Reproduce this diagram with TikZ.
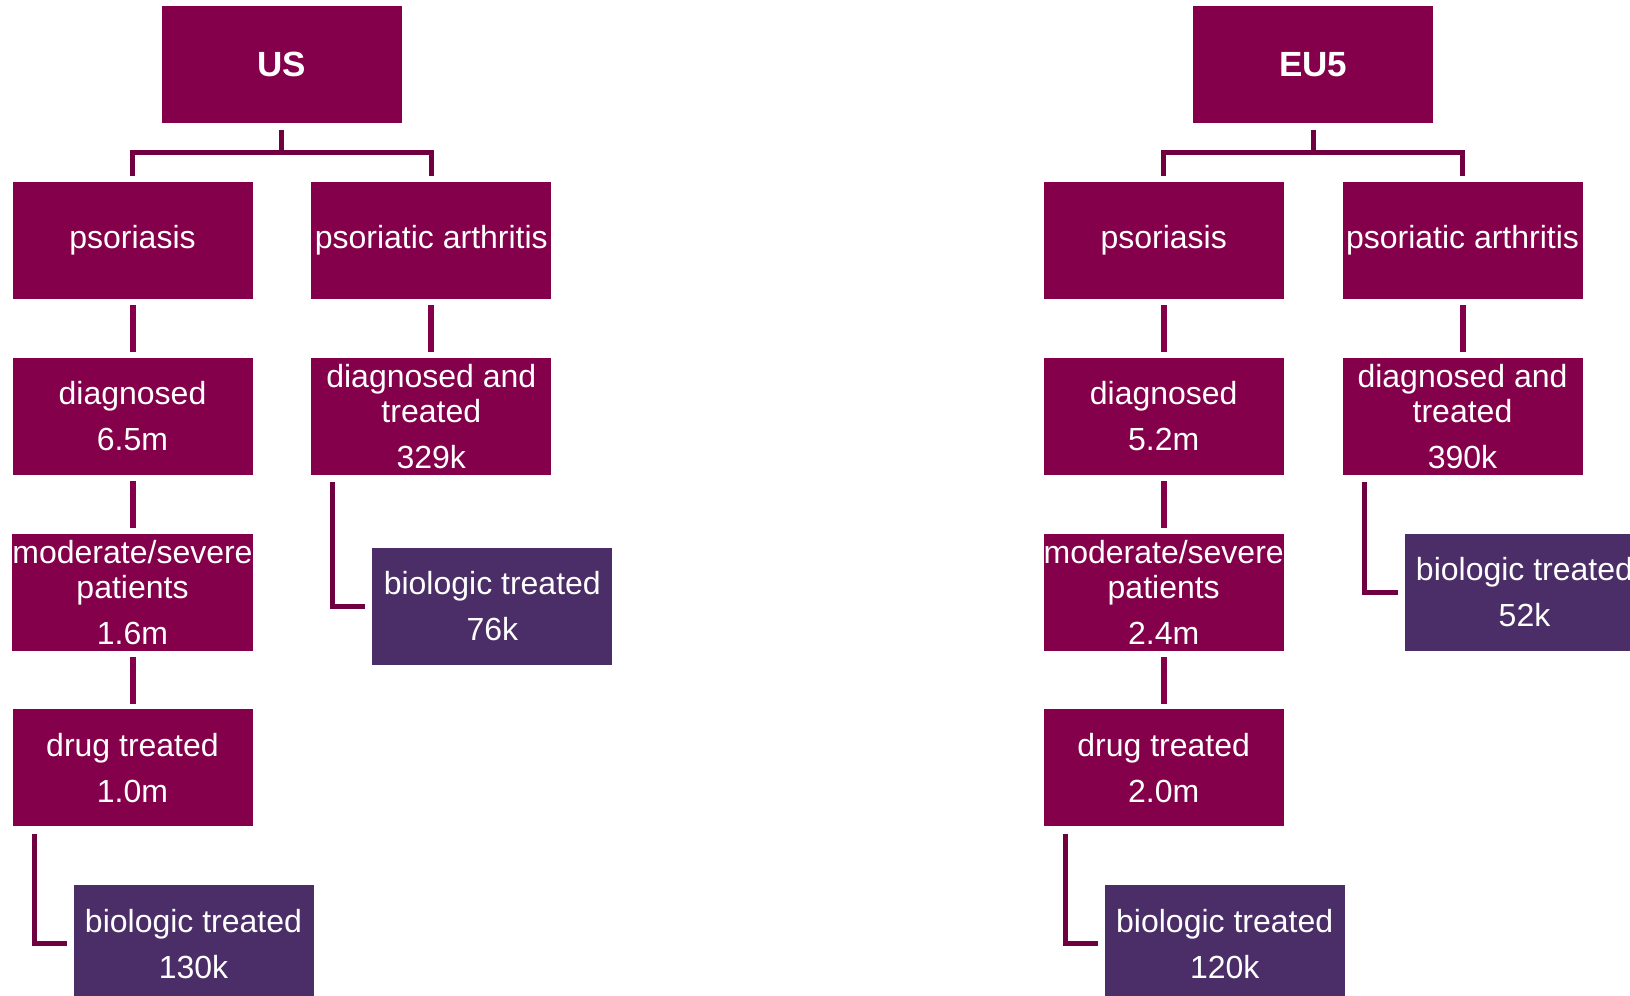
\documentclass[tikz,border=0pt]{standalone}
\usepackage{fontspec}
\setmainfont{Liberation Sans}
\usetikzlibrary{positioning, calc}
\definecolor{plum}{HTML}{85004B}
\definecolor{grape}{HTML}{4B2E67}

\begin{document}
\begin{tikzpicture}[node distance=29pt,
        box/.style={rectangle, fill=plum, text=white, minimum width=120pt, minimum height=58.5pt,
                inner sep=0pt, align=center, font=\fontsize{16}{17.5}\selectfont},
        biobox/.style={box, fill=grape},
        head/.style={box, font=\fontsize{17.5}{20}\selectfont\bfseries},
        link/.style={draw=plum, line width=3pt},
        tree/.style={draw=plum!85!black, line width=2.5pt}]
        \useasboundingbox (0,0) rectangle (815pt,-498pt);
        \clip (0,0) rectangle (815pt,-498pt);
        % US
        \node[box] (us_pso) at (66.25pt,-120.25pt) {psoriasis};
        \node[box] (us_psa) [right=of us_pso] {psoriatic arthritis};
        \coordinate (us_mid) at ($(us_pso.north)!0.5!(us_psa.north)$);
        \node[head] (us) [above=of us_mid] {US};
        \node[box] (us_dx) [below=of us_pso] {diagnosed\\[5.5pt]6.5m};
        \node[box] (us_mod) [below=of us_dx] {moderate/severe\\patients\\[5.5pt]1.6m};
        \node[box] (us_drug) [below=of us_mod] {drug treated\\[5.5pt]1.0m};
        \node[biobox] (us_bio1) [below=of us_drug, xshift=30.5pt] {biologic treated\\[5.5pt]130k};
        \node[box] (us_dxt) [below=of us_psa] {diagnosed and\\treated\\[5.5pt]329k};
        \node[biobox] (us_bio2) [below=36pt of us_dxt, xshift=30.5pt] {biologic treated\\[5.5pt]76k};
        % EU5
        \node[box] (eu_pso) at (581.85pt,-120.25pt) {psoriasis};
        \node[box] (eu_psa) [right=of eu_pso] {psoriatic arthritis};
        \coordinate (eu_mid) at ($(eu_pso.north)!0.5!(eu_psa.north)$);
        \node[head] (eu) [above=of eu_mid] {EU5};
        \node[box] (eu_dx) [below=of eu_pso] {diagnosed\\[5.5pt]5.2m};
        \node[box] (eu_mod) [below=of eu_dx] {moderate/severe\\patients\\[5.5pt]2.4m};
        \node[box] (eu_drug) [below=of eu_mod] {drug treated\\[5.5pt]2.0m};
        \node[biobox] (eu_bio1) [below=of eu_drug, xshift=30.5pt] {biologic treated\\[5.5pt]120k};
        \node[box] (eu_dxt) [below=of eu_psa] {diagnosed and\\treated\\[5.5pt]390k};
        \node[biobox] (eu_bio2) [below=of eu_dxt, xshift=31pt] {biologic treated\\[5.5pt]52k};
        % links
        \foreach \r in {us, eu} {
                \draw[tree] ([yshift=-3pt]\r.south) -- ++(0,-11.5pt) coordinate (\r_j);
                \draw[tree] ([yshift=3pt]\r_pso.north) |- (\r_j) -| ([yshift=3pt]\r_psa.north);
                \draw[link] ([yshift=-3pt]\r_pso.south) -- ([yshift=2.75pt]\r_dx.north);
                \draw[link] ([yshift=-3pt]\r_dx.south) -- ([yshift=2.75pt]\r_mod.north);
                \draw[link] ([yshift=-3pt]\r_mod.south) -- ([yshift=2.75pt]\r_drug.north);
                \draw[link] ([yshift=-3pt]\r_psa.south) -- ([yshift=2.75pt]\r_dxt.north);
                \draw[tree] ([xshift=11pt, yshift=-3.5pt]\r_drug.south west) |- ([xshift=-3.25pt]\r_bio1.west);
                \draw[tree] ([xshift=11pt, yshift=-3.25pt]\r_dxt.south west) |- ([xshift=-3.25pt]\r_bio2.west);
        }
\end{tikzpicture}
\end{document}
